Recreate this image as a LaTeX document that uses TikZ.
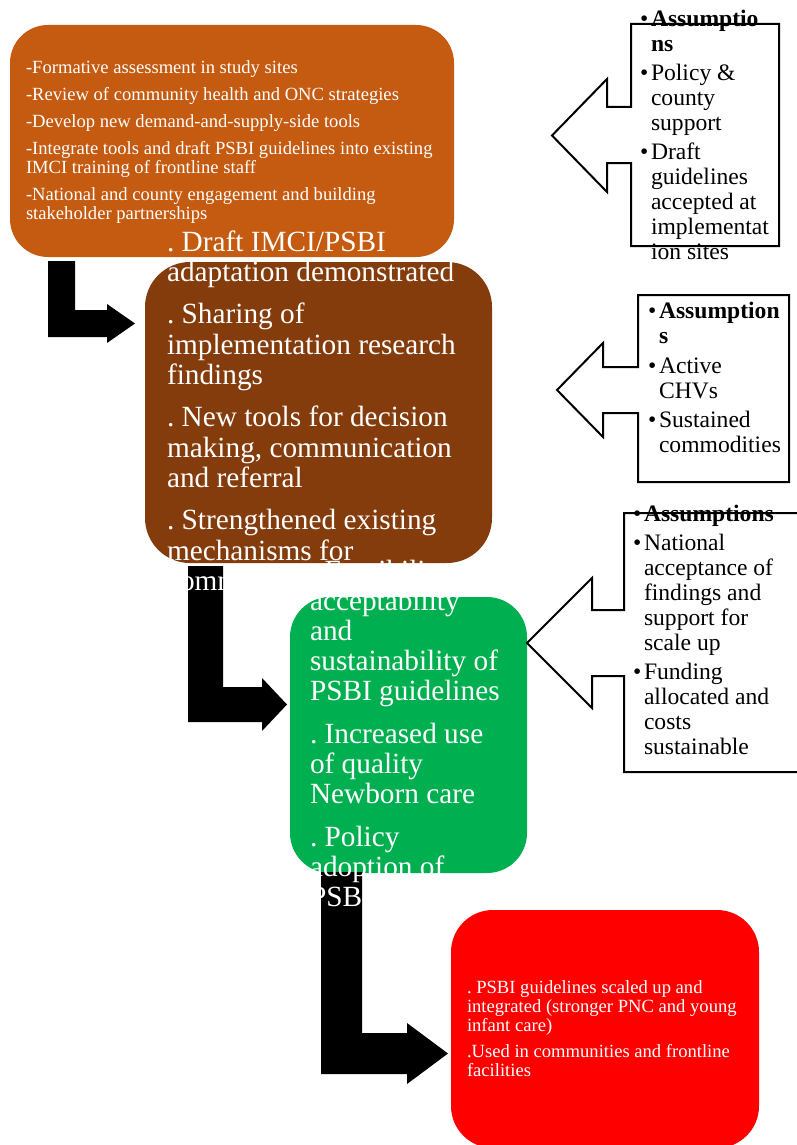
\documentclass[tikz,border=0pt]{standalone}
\usepackage{fontspec}
\setmainfont{Liberation Serif}
\frenchspacing
\definecolor{boxorange}{HTML}{C55A11}
\definecolor{boxbrown}{HTML}{843C0C}
\definecolor{boxgreen}{HTML}{00B050}
\definecolor{boxred}{HTML}{FF0000}
\begin{document}
\frenchspacing
\begin{tikzpicture}[x=1pt,y=-1pt,
  box/.style={draw=none, rounded corners=#1, inner sep=0pt, outer sep=0pt, anchor=north west},
  bentarrow/.style={fill=black, draw=none},
  callout/.style={fill=white, draw=black, line width=2pt, line join=miter},
  txtS/.style={anchor=base west, inner sep=0pt, outer sep=0pt, align=left, text=white, font=\fontsize{18.6}{19}\selectfont\frenchspacing},
  txtL/.style={anchor=base west, inner sep=0pt, outer sep=0pt, align=left, text=white, font=\fontsize{29.3}{30.5}\selectfont\frenchspacing},
  txtG/.style={txtL, font=\fontsize{29.3}{30.2}\selectfont\frenchspacing},
  asm/.style={anchor=base west, inner sep=0pt, outer sep=0pt, align=left, text=black, font=\fontsize{23.6}{25}\selectfont\frenchspacing}]
\useasboundingbox (0,0) rectangle (797,1145);
\fill[white] (0,0) rectangle (797,1145);

% coloured boxes
\node[box=38pt, fill=boxorange, minimum width=444pt, minimum height=232pt] (act) at (10,25) {};
\node[box=45pt, fill=boxbrown, minimum width=347pt, minimum height=301pt] (out) at (145,262) {};
\node[box=40pt, fill=boxgreen, minimum width=237pt, minimum height=276pt] (res) at (290,597) {};
\node[box=42pt, fill=boxred, minimum width=308pt, minimum height=238pt] (imp) at (451,910) {};

% bent black arrows
\fill[bentarrow] (48,261) -- (75,261) -- (75,310) -- (107,310) -- (107,304) -- (135,323.5) -- (107,343) -- (107,337) -- (48,337) -- cycle;
\fill[bentarrow] (188,566) -- (223,566) -- (223,687) -- (262,687) -- (262,678) -- (287,704.5) -- (262,731) -- (262,722) -- (188,722) -- cycle;
\fill[bentarrow] (321,872) -- (362,872) -- (362,1033) -- (407,1033) -- (407,1023) -- (448,1053.5) -- (407,1084) -- (407,1074) -- (321,1074) -- cycle;

% assumption callouts
\draw[callout] (631,24) -- (779,24) -- (779,246) -- (631,246) -- (631,163) -- (607,163) -- (607,192) -- (552,135.5) -- (607,79) -- (607,107) -- (631,107) -- cycle;
\draw[callout] (638,295) -- (789,295) -- (789,482) -- (638,482) -- (638,413) -- (603,413) -- (603,437) -- (557,390) -- (603,343) -- (603,367) -- (638,367) -- cycle;
\draw[callout] (624,513) -- (806,513) -- (806,772) -- (624,772) -- (624,676) -- (592,676) -- (592,708) -- (527,643) -- (592,578) -- (592,610) -- (624,610) -- cycle;

% texts (anchor = baseline of the last line)
\node[txtS] (acttxt) at (26,219) {-Formative assessment in study sites\\[8pt]
-Review of community health and ONC strategies\\[8pt]
-Develop new demand-and-supply-side tools\\[8pt]
-Integrate tools and draft PSBI guidelines into existing\\
IMCI training of frontline staff\\[8pt]
-National and county engagement and building\\
stakeholder partnerships};

\node[txtL] (outtxt) at (167,590.5) {. Draft IMCI/PSBI\\
adaptation demonstrated\\[11.5pt]
. Sharing of\\
implementation research\\
findings\\[11.5pt]
. New tools for decision\\
making, communication\\
and referral\\[11.5pt]
. Strengthened existing\\
mechanisms for\\
communities};

\node[txtG] (restxt) at (310,906.5) {. Feasibility,\\
acceptability\\
and\\
sustainability of\\
PSBI guidelines\\[12.5pt]
. Increased use\\
of quality\\
Newborn care\\[12pt]
. Policy\\
adoption of\\
PSBI};

\node[txtS] (imptxt) at (467,1076) {. PSBI guidelines scaled up and\\
integrated (stronger PNC and young\\
infant care)\\[7pt]
.Used in communities and frontline\\
facilities};

\node[asm] (asm1) at (640,259) {\makebox[11pt][l]{•}\textbf{Assumptio}\\
\hspace*{11pt}\textbf{ns}\\[4pt]
\makebox[11pt][l]{•}Policy \&\\
\hspace*{11pt}county\\
\hspace*{11pt}support\\[4pt]
\makebox[11pt][l]{•}Draft\\
\hspace*{11pt}guidelines\\
\hspace*{11pt}accepted at\\
\hspace*{11pt}implementat\\
\hspace*{11pt}ion sites};

\node[asm] (asm2) at (648,452) {\makebox[11pt][l]{•}\textbf{Assumption}\\
\hspace*{11pt}\textbf{s}\\[5pt]
\makebox[11pt][l]{•}Active\\
\hspace*{11pt}CHVs\\[4pt]
\makebox[11pt][l]{•}Sustained\\
\hspace*{11pt}commodities};

\node[asm] (asm3) at (633,754) {\makebox[11pt][l]{•}\textbf{Assumptions}\\[4pt]
\makebox[11pt][l]{•}National\\
\hspace*{11pt}acceptance of\\
\hspace*{11pt}findings and\\
\hspace*{11pt}support for\\
\hspace*{11pt}scale up\\[4pt]
\makebox[11pt][l]{•}Funding\\
\hspace*{11pt}allocated and\\
\hspace*{11pt}costs\\
\hspace*{11pt}sustainable};
\end{tikzpicture}
\end{document}
